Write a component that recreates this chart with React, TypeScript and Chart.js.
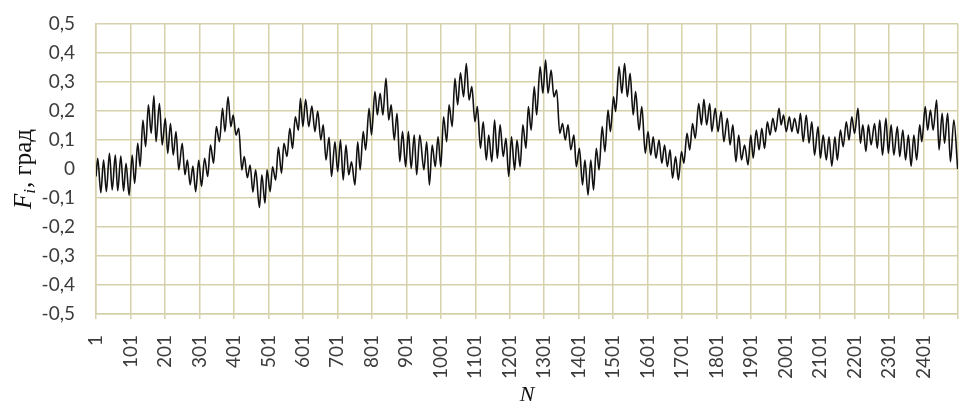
import React, { useEffect, useRef } from "react";
import Chart from "chart.js/auto";

// Sample numbers (N) of the local extremes of the signal
const sampleN = [
  1, 6, 15, 23, 31, 40, 48, 57, 64, 73, 81, 88, 97, 106, 113, 122, 129, 137, 145, 153,
  161, 169, 175, 185, 193, 202, 209, 217, 225, 233, 241, 251, 259, 266, 274, 282, 290, 299, 307, 316,
  325, 333, 342, 350, 359, 368, 375, 384, 392, 399, 407, 415, 424, 431, 440, 448, 456, 464, 475, 482,
  491, 497, 506, 513, 522, 530, 539, 546, 555, 563, 571, 579, 588, 594, 601, 609, 618, 627, 636, 644,
  653, 660, 668, 677, 684, 694, 702, 710, 718, 726, 734, 742, 752, 760, 767, 776, 783, 793, 800, 810,
  817, 825, 833, 842, 850, 857, 866, 874, 882, 890, 899, 907, 915, 924, 931, 940, 952, 960, 968, 976,
  985, 993, 1001, 1009, 1018, 1025, 1034, 1042, 1050, 1058, 1067, 1075, 1083, 1091, 1100, 1107, 1116, 1124, 1133, 1140,
  1149, 1157, 1165, 1173, 1182, 1190, 1198, 1206, 1215, 1222, 1231, 1239, 1248, 1255, 1263, 1272, 1279, 1289, 1297, 1305,
  1312, 1321, 1329, 1337, 1346, 1354, 1362, 1370, 1378, 1387, 1394, 1403, 1412, 1419, 1428, 1436, 1444, 1452, 1460, 1469,
  1477, 1486, 1493, 1502, 1508, 1518, 1526, 1534, 1542, 1550, 1559, 1566, 1576, 1584, 1594, 1602, 1610, 1617, 1625, 1634,
  1642, 1650, 1658, 1666, 1673, 1682, 1690, 1699, 1706, 1715, 1723, 1731, 1739, 1749, 1757, 1764, 1772, 1781, 1787, 1797,
  1805, 1814, 1822, 1832, 1840, 1848, 1857, 1865, 1873, 1882, 1892, 1900, 1907, 1916, 1924, 1932, 1940, 1948, 1956, 1964,
  1972, 1982, 1988, 1995, 2003, 2012, 2019, 2027, 2037, 2044, 2052, 2061, 2069, 2077, 2085, 2095, 2102, 2110, 2119, 2127,
  2135, 2144, 2151, 2160, 2168, 2177, 2185, 2193, 2201, 2211, 2218, 2225, 2234, 2241, 2249, 2259, 2267, 2274, 2282, 2292,
  2299, 2307, 2315, 2325, 2332, 2341, 2349, 2357, 2365, 2373, 2381, 2390, 2396, 2406, 2413, 2421, 2429, 2439, 2446, 2455,
  2462, 2471, 2479, 2489, 2500,
];

// F_i values (degrees) at those samples
const fValue = [
  -0.026, 0.037, -0.082, 0.031, -0.078, 0.054, -0.072, 0.048, -0.075, 0.045, -0.076, 0.02, -0.09, 0.048, -0.05, 0.089, 0.008, 0.169, 0.077, 0.221,
  0.123, 0.252, 0.094, 0.226, 0.083, 0.175, 0.054, 0.157, 0.048, 0.129, -0.003, 0.089, -0.02, 0.031, -0.055, 0.01, -0.078, 0.03, -0.06, 0.037,
  -0.026, 0.083, 0.02, 0.146, 0.094, 0.209, 0.129, 0.249, 0.146, 0.186, 0.117, 0.14, -0.003, 0.043, -0.03, 0.014, -0.08, -0.003, -0.133, -0.02,
  -0.118, -0.003, -0.078, 0.008, -0.038, 0.075, -0.015, 0.089, 0.043, 0.14, 0.071, 0.18, 0.134, 0.244, 0.146, 0.24, 0.146, 0.217, 0.129, 0.2,
  0.1, 0.152, 0.031, 0.109, -0.026, 0.094, -0.009, 0.1, -0.038, 0.083, -0.02, 0.025, -0.055, 0.094, -0.003, 0.129, 0.066, 0.209, 0.117, 0.267,
  0.186, 0.261, 0.186, 0.313, 0.169, 0.221, 0.1, 0.192, 0.025, 0.129, 0.008, 0.129, 0.002, 0.117, -0.02, 0.117, -0.003, 0.094, -0.055, 0.083,
  0.008, 0.111, 0.008, 0.18, 0.094, 0.221, 0.146, 0.313, 0.221, 0.332, 0.249, 0.364, 0.238, 0.284, 0.163, 0.215, 0.071, 0.163, 0.031, 0.117,
  0.025, 0.169, 0.037, 0.152, 0.043, 0.106, -0.026, 0.111, -0.003, 0.1, 0.008, 0.152, 0.071, 0.215, 0.134, 0.284, 0.186, 0.353, 0.261, 0.376,
  0.261, 0.341, 0.249, 0.272, 0.123, 0.157, 0.1, 0.152, 0.066, 0.117, 0.008, 0.071, -0.055, 0.031, -0.09, 0.031, -0.072, 0.071, -0.003, 0.146,
  0.06, 0.203, 0.129, 0.249, 0.198, 0.353, 0.261, 0.364, 0.249, 0.33, 0.186, 0.267, 0.134, 0.215, 0.054, 0.129, 0.048, 0.111, 0.037, 0.1,
  0.02, 0.083, 0.008, 0.066, -0.032, 0.043, -0.038, 0.06, 0.02, 0.123, 0.066, 0.157, 0.106, 0.226, 0.152, 0.24, 0.152, 0.226, 0.129, 0.209,
  0.129, 0.198, 0.094, 0.175, 0.083, 0.152, 0.025, 0.117, 0.031, 0.083, 0.014, 0.117, 0.037, 0.134, 0.066, 0.14, 0.071, 0.163, 0.117, 0.175,
  0.129, 0.209, 0.152, 0.186, 0.129, 0.18, 0.129, 0.175, 0.123, 0.192, 0.094, 0.186, 0.089, 0.163, 0.048, 0.146, 0.037, 0.117, 0.031, 0.111,
  0.01, 0.111, 0.031, 0.134, 0.077, 0.163, 0.1, 0.18, 0.123, 0.209, 0.089, 0.152, 0.06, 0.152, 0.083, 0.157, 0.071, 0.169, 0.048, 0.175,
  0.054, 0.152, 0.048, 0.146, 0.043, 0.134, 0.031, 0.117, 0.01, 0.117, 0.031, 0.152, 0.094, 0.215, 0.134, 0.203, 0.134, 0.238, 0.066, 0.192,
  0.089, 0.192, 0.025, 0.169, 0.0,
];

const xTickLabels = [
  "1", "101", "201", "301", "401", "501", "601", "701", "801", "901", "1001", "1101", "1201",
  "1301", "1401", "1501", "1601", "1701", "1801", "1901", "2001", "2101", "2201", "2301", "2401",
];
const xEnd = 2501;
const yTickValues = [-0.5, -0.4, -0.3, -0.2, -0.1, 0, 0.1, 0.2, 0.3, 0.4, 0.5];

const GRID = "#d5d1aa";
const TEXT = "#3c3c3c";
const SANS = "Lato, 'Open Sans', sans-serif";
const SERIF = "'Liberation Serif', 'DejaVu Serif', serif";

const titlesPlugin = {
  id: "titles",
  afterDraw(chart: any) {
    const ctx = chart.ctx;
    const area = chart.chartArea;
    ctx.save();
    ctx.fillStyle = "#111";
    // X title
    ctx.font = `italic 22px ${SERIF}`;
    ctx.textAlign = "center";
    ctx.textBaseline = "alphabetic";
    ctx.fillText("N", (area.left + area.right) / 2, 401);
    // Y title: F_i, град
    const cy = (area.top + area.bottom) / 2;
    ctx.translate(31, cy);
    ctx.rotate(-Math.PI / 2);
    const fF = `italic 25px ${SERIF}`;
    const fI = `italic 17px ${SERIF}`;
    const fR = `25px ${SERIF}`;
    ctx.font = fF;
    const wF = ctx.measureText("F").width;
    ctx.font = fI;
    const wI = ctx.measureText("i").width;
    ctx.font = fR;
    const rest = ", град";
    const wR = ctx.measureText(rest).width;
    const total = wF + wI + 1 + wR;
    let x = -total / 2;
    ctx.textAlign = "left";
    ctx.font = fF;
    ctx.fillText("F", x, 0);
    x += wF;
    ctx.font = fI;
    ctx.fillText("i", x, 4);
    x += wI + 1;
    ctx.font = fR;
    ctx.fillText(rest, x, 0);
    ctx.restore();
  },
};

export default function App() {
  const ref = useRef<HTMLCanvasElement | null>(null);

  useEffect(() => {
    if (!ref.current) return;
    const points = sampleN.map((n, i) => ({ x: n, y: fValue[i] }));
    const xTickValues = [...xTickLabels.map((l) => Number(l)), xEnd];

    const chart = new Chart(ref.current, {
      type: "line",
      data: {
        datasets: [
          {
            data: points,
            borderColor: "#111111",
            borderWidth: 1.6,
            pointRadius: 0,
            fill: false,
            cubicInterpolationMode: "monotone",
          },
        ],
      },
      options: {
        responsive: false,
        animation: false,
        devicePixelRatio: 1,
        layout: { padding: { top: 24, right: 13, left: 0, bottom: 0 } },
        plugins: {
          legend: { display: false },
          tooltip: { enabled: false },
        },
        scales: {
          x: {
            type: "linear",
            min: 1,
            max: xEnd,
            afterBuildTicks: (scale: any) => {
              scale.ticks = xTickValues.map((v) => ({ value: v }));
            },
            afterFit: (scale: any) => {
              scale.height = 101;
              scale.paddingLeft = 0;
              scale.paddingRight = 0;
            },
            grid: { color: GRID, lineWidth: 1.5, drawTicks: true, tickLength: 5 },
            border: { display: true, color: GRID, width: 1.5 },
            ticks: {
              autoSkip: false,
              maxRotation: 90,
              minRotation: 90,
              padding: 16,
              color: TEXT,
              font: { family: SANS, size: 19 },
              callback: (v: any) => {
                const s = String(v);
                return xTickLabels.includes(s) ? s : "";
              },
            },
          },
          y: {
            type: "linear",
            min: -0.5,
            max: 0.5,
            afterBuildTicks: (scale: any) => {
              scale.ticks = yTickValues.map((v) => ({ value: v }));
            },
            afterFit: (scale: any) => {
              scale.width = 96;
              scale.paddingTop = 0;
              scale.paddingBottom = 0;
            },
            grid: { color: GRID, lineWidth: 1.5, drawTicks: false },
            border: { display: true, color: GRID, width: 1.5 },
            ticks: {
              padding: 21,
              color: TEXT,
              font: { family: SANS, size: 19 },
              callback: (v: any) => {
                const r = Math.round(Number(v) * 10) / 10;
                return r === 0 ? "0" : r.toFixed(1).replace(".", ",");
              },
            },
          },
        },
      },
      plugins: [titlesPlugin],
    } as any);

    return () => chart.destroy();
  }, []);

  return (
    <div style={{ position: "absolute", left: 0, top: 0, width: 971, height: 415, background: "#fff" }}>
      <canvas ref={ref} width={971} height={415} style={{ display: "block", width: 971, height: 415 }} />
    </div>
  );
}
